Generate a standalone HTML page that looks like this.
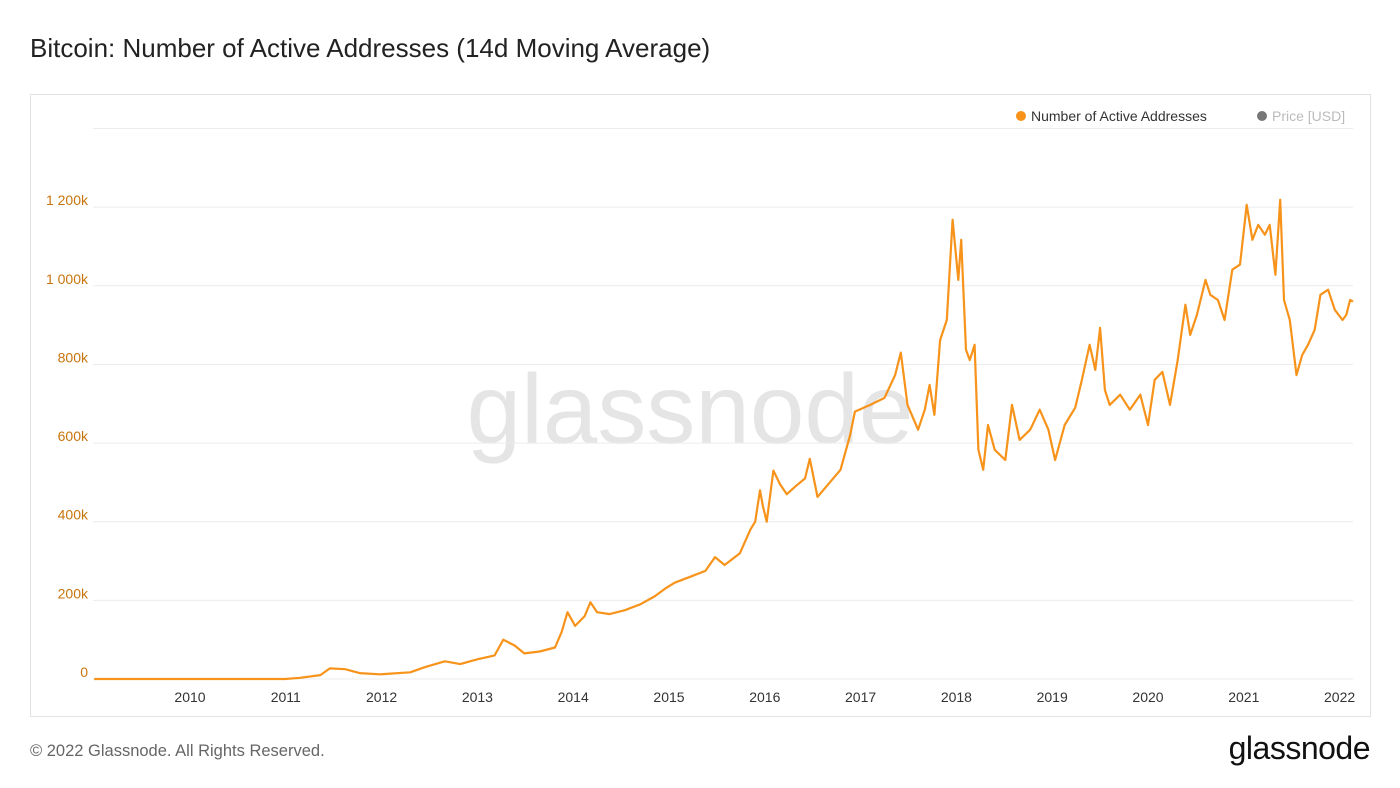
<!DOCTYPE html>
<html><head><meta charset="utf-8">
<style>
body{margin:0;width:1400px;height:788px;background:#fff;font-family:"Liberation Sans",sans-serif;overflow:hidden;position:relative}
.title{position:absolute;left:30px;top:33px;font-size:26px;color:#222}
.box{position:absolute;left:30px;top:94px;width:1339px;height:621px;border:1px solid #e2e2e2}
.foot{position:absolute;left:30px;top:742px;font-size:16.5px;color:#666}
.logo{position:absolute;right:30px;top:730px;font-size:32px;color:#111;letter-spacing:-0.5px}
</style></head><body>
<div class="title">Bitcoin: Number of Active Addresses (14d Moving Average)</div>
<div class="box"></div>
<svg id="chart" width="1400" height="788" style="position:absolute;left:0;top:0">
<text x="690" y="443" text-anchor="middle" font-size="98" fill="#e5e5e5" font-family="Liberation Sans, sans-serif">glassnode</text>
<g id="legend">
<circle cx="1021" cy="116" r="5" fill="#f7931a"/>
<text x="1031" y="121" font-size="14" fill="#333">Number of Active Addresses</text>
<circle cx="1262" cy="116" r="5" fill="#777"/>
<text x="1272" y="121" font-size="14" fill="#bbb">Price [USD]</text>
</g>
</svg>
<div class="foot">© 2022 Glassnode. All Rights Reserved.</div>
<div class="logo">glassnode</div>
<script>
const yTicks=[0,200,400,600,800,1000,1200];
const yTickLabels=["0","200k","400k","600k","800k","1 000k","1 200k"];
const xTicks=[2010,2011,2012,2013,2014,2015,2016,2017,2018,2019,2020,2021,2022];
const dates=[2009.00,2010.99,2011.15,2011.36,2011.46,2011.62,2011.77,2011.98,2012.30,2012.45,2012.66,2012.82,2013.00,2013.18,2013.27,2013.39,2013.49,2013.65,2013.81,2013.88,2013.94,2014.02,2014.12,2014.18,2014.25,2014.38,2014.54,2014.70,2014.85,2014.96,2015.06,2015.22,2015.38,2015.48,2015.58,2015.74,2015.85,2015.90,2015.95,2015.98,2016.02,2016.09,2016.16,2016.23,2016.32,2016.42,2016.47,2016.55,2016.79,2016.89,2016.94,2017.10,2017.25,2017.36,2017.42,2017.49,2017.60,2017.67,2017.72,2017.77,2017.83,2017.90,2017.96,2018.02,2018.05,2018.10,2018.14,2018.19,2018.23,2018.28,2018.33,2018.40,2018.51,2018.58,2018.66,2018.77,2018.87,2018.96,2019.03,2019.13,2019.24,2019.31,2019.39,2019.45,2019.50,2019.55,2019.60,2019.71,2019.81,2019.92,2020.00,2020.07,2020.15,2020.23,2020.31,2020.39,2020.44,2020.51,2020.60,2020.65,2020.73,2020.80,2020.88,2020.96,2021.03,2021.09,2021.15,2021.22,2021.27,2021.33,2021.38,2021.42,2021.48,2021.55,2021.61,2021.67,2021.74,2021.80,2021.88,2021.95,2022.03,2022.07,2022.11,2022.14];
const values=[0,0,3,10,27,25,15,12,17,30,45,38,50,60,100,85,65,70,80,120,170,135,160,195,170,165,175,190,210,230,245,260,275,310,290,320,380,400,480,440,400,530,495,470,490,510,560,463,532,620,680,697,715,773,830,697,634,685,748,672,862,913,1168,1015,1117,837,811,850,583,532,646,583,557,697,608,634,685,634,557,646,690,761,850,786,893,735,697,723,685,723,646,761,781,697,811,952,875,926,1015,977,964,913,1041,1054,1206,1117,1155,1130,1155,1028,1219,964,913,773,824,850,888,977,990,939,913,926,964,960];
const svg=document.getElementById('chart');
const NS='http://www.w3.org/2000/svg';
const X=d=>190+(d-2010)*95.8;
const Y=v=>679-v*0.3932;
function mk(t,a){const e=document.createElementNS(NS,t);for(const k in a)e.setAttribute(k,a[k]);svg.insertBefore(e,document.getElementById('legend'));return e;}
[...yTicks,1400].forEach((v,i)=>{
 const g=mk('line',{x1:93,x2:1353,y1:Y(v),y2:Y(v),stroke:'#ececec','stroke-width':1});
 
 
 if(i<yTicks.length){
  const t=mk('text',{x:88,y:Y(v)-2,'text-anchor':'end','font-size':14,fill:'#c8740c'});
  t.textContent=yTickLabels[i];
  
  
 }
});
xTicks.forEach(d=>{
 const t=mk('text',{x:X(d),y:702,'text-anchor':'middle','font-size':14,fill:'#333'});
 t.textContent=d;
 
 
});
const p=mk('path',{d:dates.map((d,i)=>(i?'L':'M')+X(d).toFixed(1)+','+Y(values[i]).toFixed(1)).join(''),fill:'none',stroke:'#f7931a','stroke-width':2.2,'stroke-linejoin':'round'});


</script>
</body></html>
